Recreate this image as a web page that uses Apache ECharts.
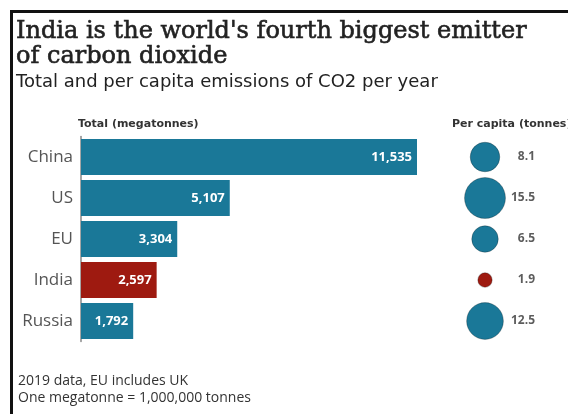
<!DOCTYPE html>
<html>
<head>
<meta charset="utf-8">
<script src="https://cdn.jsdelivr.net/npm/echarts@6/dist/echarts.min.js"></script>
<style>
  body { margin: 0; background: #fff; }
  #chart { position: absolute; left: 0; top: 0; width: 568px; height: 414px; }
  #frame {
    position: absolute; left: 10px; top: 10px; right: 0; bottom: 0;
    border-top: 3px solid #111; border-left: 3px solid #111;
    pointer-events: none;
  }
</style>
</head>
<body>
<div id="chart"></div>
<div id="frame"></div>
<script>
  // data
  var countries = ['China', 'US', 'EU', 'India', 'Russia'];
  var totals = [11535, 5107, 3304, 2597, 1792];       // megatonnes
  var perCapita = [8.1, 15.5, 6.5, 1.9, 12.5];         // tonnes
  var highlight = 'India';

  var blue = '#1a7898';
  var red = '#9e1a10';
  var sans = '"Open Sans", "Noto Sans", sans-serif';
  var wide = '"DejaVu Sans", sans-serif';

  function colorOf(i) {
    return countries[i] === highlight ? red : blue;
  }

  var chart = echarts.init(document.getElementById('chart'));

  chart.setOption({
    animation: false,
    backgroundColor: '#fff',
    title: [
      {
        text: "India is the world's fourth biggest emitter\nof carbon dioxide",
        left: 16, top: 19, padding: 0,
        textStyle: {
          fontFamily: '"DejaVu Serif", serif', fontSize: 24, fontWeight: 'normal', color: '#222',
          lineHeight: 25, textBorderColor: '#222', textBorderWidth: 0.6
        }
      },
      {
        text: 'Total and per capita emissions of CO2 per year',
        left: 16, top: 72, padding: 0,
        textStyle: { fontFamily: wide, fontSize: 18, fontWeight: 'normal', color: '#222', lineHeight: 20 }
      },
      {
        text: 'Total (megatonnes)',
        left: 78, top: 119, padding: 0,
        textStyle: { fontFamily: wide, fontSize: 11, fontWeight: 'bold', color: '#333' }
      },
      {
        text: 'Per capita (tonnes)',
        left: 452, top: 119, padding: 0,
        textStyle: { fontFamily: wide, fontSize: 11, fontWeight: 'bold', color: '#333' }
      },
      {
        text: '2019 data, EU includes UK\nOne megatonne = 1,000,000 tonnes',
        left: 18, top: 373, padding: 0,
        textStyle: { fontFamily: sans, fontSize: 14, fontWeight: 'normal', color: '#333', lineHeight: 17 }
      }
    ],
    grid: [
      { left: 81, top: 136.5, width: 336, height: 205 },
      { left: 435, top: 136.5, width: 100, height: 205 }
    ],
    xAxis: [
      { gridIndex: 0, type: 'value', min: 0, max: 11535, show: false },
      { gridIndex: 1, type: 'value', min: 0, max: 100, show: false }
    ],
    yAxis: [
      {
        gridIndex: 0, type: 'category', data: countries, inverse: true,
        axisLine: { show: true, lineStyle: { color: '#888', width: 1.5 } },
        axisTick: { show: false },
        axisLabel: { fontFamily: sans, fontSize: 17, color: '#555', margin: 8 }
      },
      {
        gridIndex: 1, type: 'category', data: countries, inverse: true, show: false
      }
    ],
    series: [
      {
        type: 'bar',
        xAxisIndex: 0, yAxisIndex: 0,
        barWidth: 36,
        data: totals.map(function (v, i) {
          return { value: v, itemStyle: { color: colorOf(i) } };
        }),
        label: {
          show: true, position: 'insideRight', distance: 5,
          fontFamily: sans, fontSize: 13, fontWeight: 'bold', color: '#fff',
          formatter: function (p) { return p.value.toLocaleString('en-US'); }
        }
      },
      {
        type: 'scatter',
        xAxisIndex: 1, yAxisIndex: 1,
        data: perCapita.map(function (v, i) {
          return {
            value: [50, countries[i]],
            symbolSize: 10.4 * Math.sqrt(v),
            itemStyle: { color: colorOf(i), opacity: 1, borderColor: 'rgba(0,0,0,0.25)', borderWidth: 1 }
          };
        })
      },
      {
        type: 'scatter',
        xAxisIndex: 1, yAxisIndex: 1,
        symbolSize: 0,
        data: perCapita.map(function (v, i) { return [100, countries[i], v]; }),
        label: {
          show: true, position: 'left', distance: 0,
          fontFamily: sans, fontSize: 12, fontWeight: 'bold', color: '#333',
          formatter: function (p) { return p.value[2].toFixed(1); }
        }
      }
    ]
  });
</script>
</body>
</html>
